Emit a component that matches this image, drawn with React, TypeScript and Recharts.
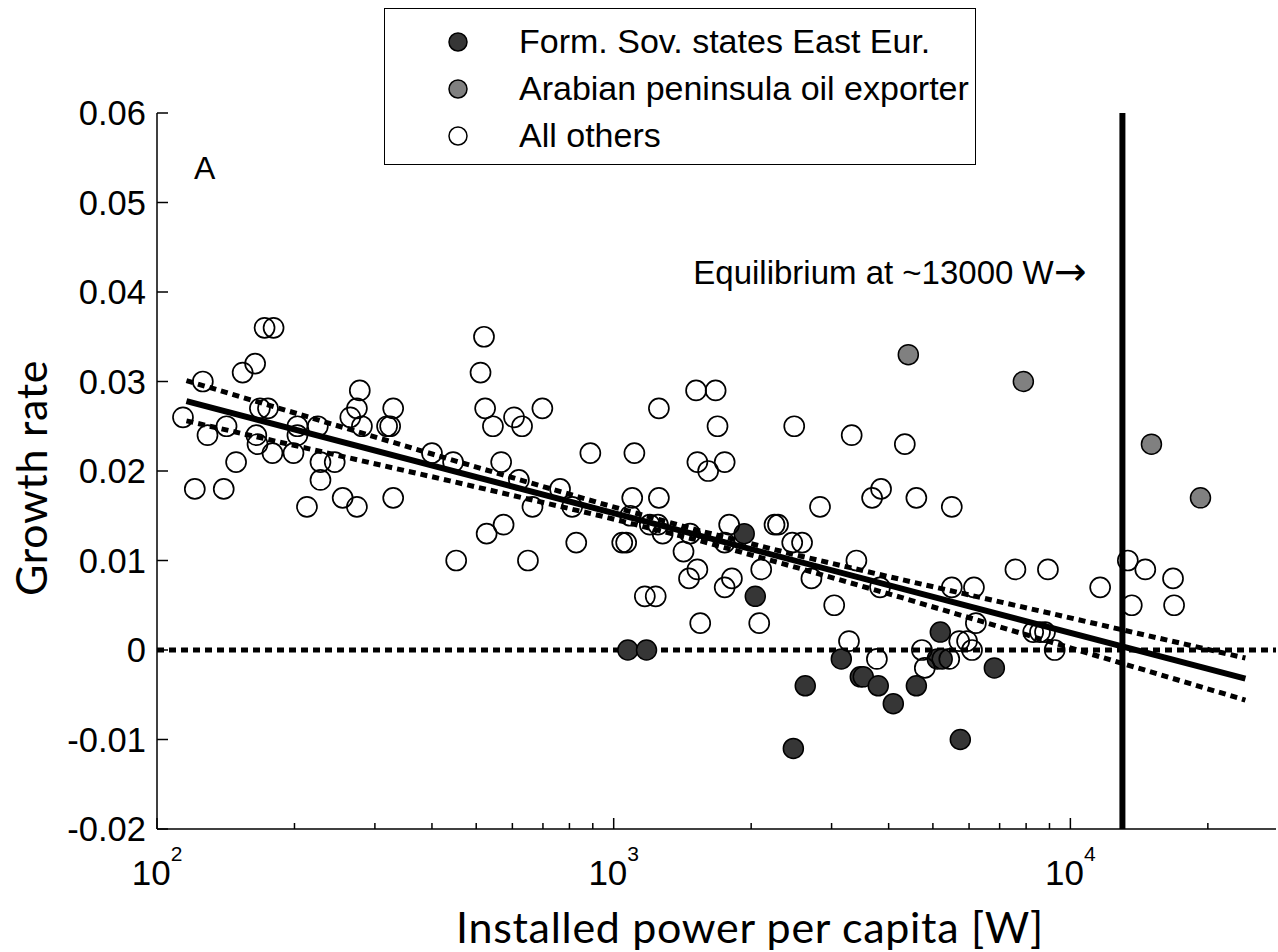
import React from "react";
import { ScatterChart, Scatter, XAxis, YAxis, ReferenceLine, Legend } from "recharts";

const FONT = '"Liberation Sans", Arial, sans-serif';
const TITLE_FONT = 'Lato, "Open Sans", sans-serif';

// axes
const X_DOMAIN = [100, 28200];
const Y_DOMAIN = [-0.02, 0.06];
const X_TICKS = [
  100, 200, 300, 400, 500, 600, 700, 800, 900,
  1000, 2000, 3000, 4000, 5000, 6000, 7000, 8000, 9000,
  10000, 20000,
];
const Y_TICKS = [-0.02, -0.01, 0, 0.01, 0.02, 0.03, 0.04, 0.05, 0.06];
const EQUILIBRIUM_W = 13000;

// [installed power per capita (W), growth rate]
const sovietStates = [
  [1074, 0.0], [1180, 0.0], [1931, 0.013], [2042, 0.006], [2474, -0.011],
  [2627, -0.004], [3151, -0.001], [3467, -0.003], [3520, -0.003], [3796, -0.004],
  [4095, -0.006], [4600, -0.004], [5113, -0.001], [5190, 0.002], [5240, -0.001],
  [5741, -0.01], [6816, -0.002],
];

const arabianExporters = [
  [4417, 0.033], [7889, 0.03], [15050, 0.023], [19270, 0.017],
];

const allOthers = [
  [114, 0.026], [121, 0.018], [126, 0.03], [129, 0.024], [140, 0.018],
  [142, 0.025], [149, 0.021], [154, 0.031], [164, 0.032], [165, 0.024],
  [166, 0.023], [168, 0.027], [172, 0.036], [175, 0.027], [179, 0.022],
  [180, 0.036], [199, 0.022], [203, 0.025], [203, 0.024], [213, 0.016],
  [225, 0.025], [228, 0.021], [228, 0.019], [245, 0.021], [255, 0.017],
  [265, 0.026], [274, 0.027], [274, 0.016], [278, 0.029], [281, 0.025],
  [319, 0.025], [324, 0.025], [329, 0.027], [329, 0.017], [400, 0.022],
  [445, 0.021], [452, 0.01], [511, 0.031], [520, 0.035], [523, 0.027],
  [527, 0.013], [544, 0.025], [567, 0.021], [574, 0.014], [605, 0.026],
  [620, 0.019], [630, 0.025], [649, 0.01], [664, 0.016], [698, 0.027],
  [763, 0.018], [811, 0.016], [828, 0.012], [889, 0.022], [1044, 0.012],
  [1065, 0.012], [1087, 0.015], [1098, 0.017], [1110, 0.022], [1170, 0.006],
  [1200, 0.014], [1236, 0.006], [1250, 0.014], [1256, 0.027], [1256, 0.017],
  [1280, 0.013], [1422, 0.011], [1462, 0.008], [1470, 0.013], [1515, 0.029],
  [1525, 0.021], [1525, 0.009], [1547, 0.003], [1610, 0.02], [1672, 0.029],
  [1688, 0.025], [1750, 0.021], [1750, 0.007], [1750, 0.012], [1790, 0.014],
  [1815, 0.008], [2083, 0.003], [2104, 0.009], [2250, 0.014], [2290, 0.014],
  [2460, 0.012], [2485, 0.025], [2585, 0.012], [2710, 0.008], [2830, 0.016],
  [3040, 0.005], [3275, 0.001], [3320, 0.024], [3400, 0.01], [3680, 0.017],
  [3770, -0.001], [3830, 0.007], [3850, 0.018], [4340, 0.023], [4600, 0.017],
  [4730, 0.0], [4800, -0.002], [5430, -0.001], [5500, 0.016], [5500, 0.007],
  [5710, 0.001], [5940, 0.001], [6090, 0.0], [6150, 0.007], [6210, 0.003],
  [7580, 0.009], [8290, 0.002], [8580, 0.002], [8800, 0.002], [8930, 0.009],
  [9240, 0.0], [11620, 0.007], [13360, 0.01], [13630, 0.005], [14590, 0.009],
  [16780, 0.008], [16870, 0.005],
];

// log-linear fit and its confidence band
const fitLine = [[116, 0.0278], [24170, -0.0032]];
const upperBand = [
  [116, 0.0301], [206, 0.0263], [438, 0.0213], [934, 0.0164], [1547, 0.0133],
  [2562, 0.0105], [4242, 0.0079], [9042, 0.0041], [24170, -0.0009],
];
const lowerBand = [
  [116, 0.0256], [206, 0.0227], [438, 0.0189], [934, 0.015], [1547, 0.0122],
  [2562, 0.0091], [4242, 0.0059], [9042, 0.0009], [24170, -0.0056],
];

const toPoints = (rows: number[][]) => rows.map(([power, growth]) => ({ power, growth }));

const groups = [
  { name: "Form. Sov. states East Eur.", fill: "#363636", data: toPoints(sovietStates) },
  { name: "Arabian peninsula oil exporter", fill: "#808080", data: toPoints(arabianExporters) },
  { name: "All others", fill: "none", data: toPoints(allOthers) },
];

const isDecade = (v: number) => Math.abs(Math.log10(v) - Math.round(Math.log10(v))) < 1e-9;

const BottomTick = ({ x, y, payload }: any) => {
  const major = isDecade(payload.value);
  return (
    <g>
      <line x1={x} x2={x} y1={y} y2={y - (major ? 11 : 6)} stroke="#000" strokeWidth={1.5} />
      {major && (
        <text x={x} y={y + 56} textAnchor="middle" fontFamily={FONT} fontSize={35} fill="#000">
          10
          <tspan dy={-24} fontSize={21}>{Math.round(Math.log10(payload.value))}</tspan>
        </text>
      )}
    </g>
  );
};

const TopTick = ({ x, y, payload }: any) => (
  <line x1={x} x2={x} y1={y} y2={y + (isDecade(payload.value) ? 11 : 6)} stroke="#000" strokeWidth={1.5} />
);

const LeftTick = ({ x, y, payload }: any) => (
  <g>
    <line x1={x} x2={x + 11} y1={y} y2={y} stroke="#000" strokeWidth={1.5} />
    <text x={x - 11} y={y} dy="0.36em" textAnchor="end" fontFamily={FONT} fontSize={34.5} fill="#000">
      {payload.value === 0 ? "0" : payload.value.toFixed(2)}
    </text>
  </g>
);

const RightTick = ({ x, y }: any) => (
  <line x1={x} x2={x - 11} y1={y} y2={y} stroke="#000" strokeWidth={1.5} />
);

const XTitle = () => (
  <text
    x={750}
    y={943}
    textAnchor="middle"
    fontFamily={TITLE_FONT}
    fontSize={43}
    letterSpacing={0.7}
    fill="#000"
  >
    Installed power per capita [W]
  </text>
);

const YTitle = () => (
  <text
    x={0}
    y={0}
    transform="translate(47 478) rotate(-90)"
    textAnchor="middle"
    fontFamily={TITLE_FONT}
    fontSize={43}
    letterSpacing={0.7}
    fill="#000"
  >
    Growth rate
  </text>
);

const EquilibriumLabel = ({ viewBox }: any) => (
  <text
    x={viewBox.x - 36}
    y={viewBox.y + 171}
    textAnchor="end"
    fontFamily={FONT}
    fontSize={33}
    fill="#000"
  >
    Equilibrium at ~13000 W
    <tspan fontFamily='"DejaVu Sans", sans-serif' fontSize={39} dy={1}>→</tspan>
  </text>
);

const LegendBox = () => (
  <div
    style={{
      width: 592,
      height: 157,
      boxSizing: "border-box",
      border: "1.5px solid #000",
      background: "#fff",
      paddingTop: 9,
      fontFamily: FONT,
      fontSize: 34,
      color: "#000",
    }}
  >
    {groups.map((g) => (
      <div key={g.name} style={{ display: "flex", alignItems: "center", height: 47 }}>
        <svg width={22} height={22} style={{ marginLeft: 62 }}>
          <circle cx={11} cy={11} r={9} fill={g.fill === "none" ? "#fff" : g.fill} stroke="#000" strokeWidth={1.5} />
        </svg>
        <span style={{ marginLeft: 50, whiteSpace: "nowrap" }}>{g.name}</span>
      </div>
    ))}
  </div>
);

const marker = (fill: string) => (p: any) => (
  <circle cx={p.cx} cy={p.cy} r={10} fill={fill} stroke="#000" strokeWidth={fill === "none" ? 1.7 : 1.5} />
);

const noMarker = () => <g />;

export default function App() {
  return (
    <div style={{ position: "relative", width: 1278, height: 952 }}>
      <style>{"body{margin:0}"}</style>
      <ScatterChart width={1278} height={952} margin={{ top: 113, right: 2, bottom: 63, left: 57 }}>
        <XAxis
          type="number"
          dataKey="power"
          scale="log"
          domain={X_DOMAIN}
          ticks={X_TICKS}
          interval={0}
          allowDataOverflow
          height={60}
          tickSize={0}
          tickMargin={0}
          tick={<BottomTick />}
          axisLine={{ stroke: "#000", strokeWidth: 1.5 }}
          label={<XTitle />}
        />
        <XAxis
          xAxisId="top"
          orientation="top"
          type="number"
          dataKey="power"
          scale="log"
          domain={X_DOMAIN}
          ticks={X_TICKS}
          interval={0}
          allowDataOverflow
          height={0}
          tickSize={0}
          tickMargin={0}
          tick={<TopTick />}
          axisLine={{ stroke: "#000", strokeWidth: 1.5 }}
        />
        <YAxis
          type="number"
          dataKey="growth"
          domain={Y_DOMAIN}
          ticks={Y_TICKS}
          interval={0}
          allowDataOverflow
          width={100}
          tickSize={0}
          tickMargin={0}
          tick={<LeftTick />}
          axisLine={{ stroke: "#000", strokeWidth: 1.5 }}
          label={<YTitle />}
        />
        <YAxis
          yAxisId="right"
          orientation="right"
          type="number"
          dataKey="growth"
          domain={Y_DOMAIN}
          ticks={Y_TICKS}
          interval={0}
          allowDataOverflow
          width={0}
          tickSize={0}
          tickMargin={0}
          tick={<RightTick />}
          axisLine={{ stroke: "#000", strokeWidth: 1.5 }}
        />
        <ReferenceLine y={0} stroke="#000" strokeWidth={5} strokeDasharray="7 5" />
        <ReferenceLine x={EQUILIBRIUM_W} stroke="#000" strokeWidth={6} label={<EquilibriumLabel />} />
        <Scatter
          data={toPoints(upperBand)}
          line={{ stroke: "#000", strokeWidth: 5, strokeDasharray: "7 5" }}
          shape={noMarker}
          legendType="none"
          isAnimationActive={false}
        />
        <Scatter
          data={toPoints(lowerBand)}
          line={{ stroke: "#000", strokeWidth: 5, strokeDasharray: "7 5" }}
          shape={noMarker}
          legendType="none"
          isAnimationActive={false}
        />
        <Scatter
          data={toPoints(fitLine)}
          line={{ stroke: "#000", strokeWidth: 6 }}
          shape={noMarker}
          legendType="none"
          isAnimationActive={false}
        />
        {groups.map((g) => (
          <Scatter key={g.name} name={g.name} data={g.data} shape={marker(g.fill)} isAnimationActive={false} />
        ))}
        <Legend
          layout="vertical"
          align="center"
          verticalAlign="middle"
          content={<LegendBox />}
          wrapperStyle={{ left: 384, top: 8, width: 592, height: 157 }}
        />
      </ScatterChart>
      <svg
        width={1278}
        height={952}
        style={{ position: "absolute", left: 0, top: 0, pointerEvents: "none" }}
      >
        <text x={194} y={179} fontFamily={FONT} fontSize={32} fill="#000">
          A
        </text>
      </svg>
    </div>
  );
}
